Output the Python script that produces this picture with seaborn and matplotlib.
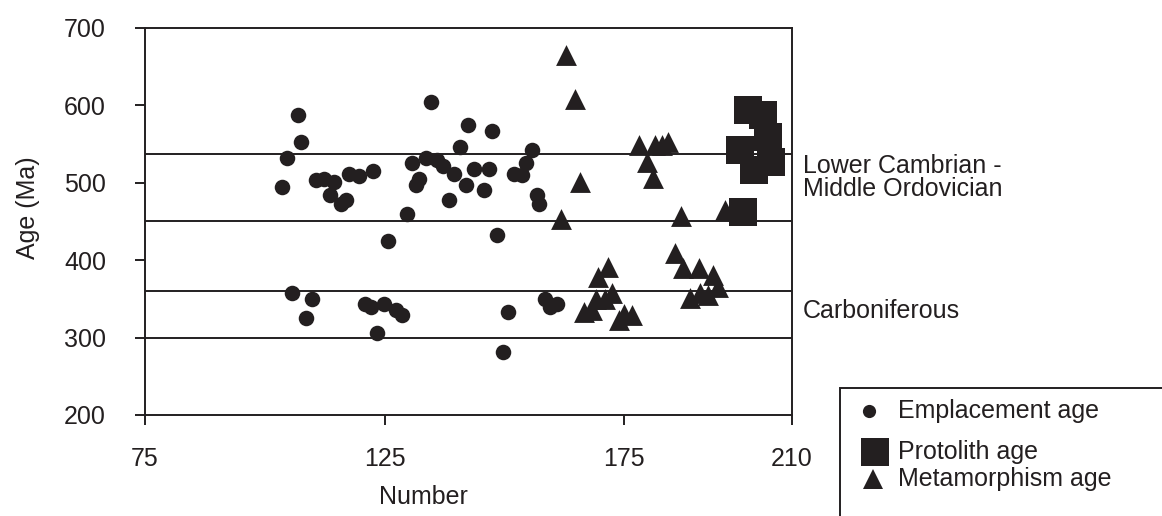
import numpy as np
import pandas as pd
import matplotlib
matplotlib.use("Agg")
import matplotlib.pyplot as plt
from matplotlib.lines import Line2D
from matplotlib.patches import Rectangle
import matplotlib.transforms as mtransforms
import seaborn as sns

# ---------------- data ----------------
emp_number = [103.6, 104.7, 106.9, 107.5, 105.7, 108.6, 109.8, 110.7, 112.4, 114.5,
              113.5, 115.9, 117.0, 117.6, 119.7, 122.5, 120.9, 122.2, 124.8, 127.4,
              128.7, 123.5, 125.8, 129.6, 130.7, 131.6, 132.2, 133.6, 134.6, 136.0,
              137.1, 139.5, 138.4, 140.7, 142.4, 141.9, 143.7, 145.7, 146.8, 147.5,
              148.5, 149.7, 150.7, 152.0, 153.7, 154.6, 155.7, 156.8, 157.3, 158.4,
              159.6, 161.0]
emp_age = [494.6, 532.0, 587.1, 552.6, 357.0, 325.5, 349.3, 504.1, 505.4, 501.0,
           483.9, 473.2, 477.4, 511.9, 508.4, 514.8, 343.2, 339.0, 342.8, 335.5,
           329.0, 305.4, 424.9, 460.3, 525.5, 496.8, 505.4, 532.0, 604.3, 529.0,
           521.3, 511.9, 477.4, 546.2, 574.2, 497.7, 518.3, 491.2, 518.3, 566.8,
           432.3, 280.9, 332.5, 511.9, 509.7, 525.5, 542.8, 483.9, 473.2, 349.7,
           339.7, 342.8]

pro_number = [200.9, 203.9, 204.9, 199.2, 205.6, 202.1, 199.8]
pro_age = [594.4, 587.1, 559.6, 542.3, 526.8, 516.1, 462.3]

met_number = [162.9, 164.7, 165.8, 161.7, 166.7, 168.3, 169.0, 169.5, 171.0, 171.7,
              172.4, 173.8, 174.9, 176.6, 178.0, 179.7, 180.9, 181.4, 182.8, 184.1,
              186.8, 185.5, 187.3, 190.5, 193.6, 194.6, 188.7, 190.8, 192.5, 196.0]
met_age = [664.5, 608.6, 501.0, 453.8, 333.3, 335.5, 349.3, 377.7, 349.3, 390.6,
           357.8, 322.6, 330.3, 329.0, 548.4, 526.8, 506.7, 548.4, 548.4, 552.6,
           457.2, 409.4, 389.3, 389.3, 380.6, 365.5, 350.6, 357.0, 354.8, 464.5]

boundary_ages = [537, 450, 360, 300]
period_labels = ["Lower Cambrian -\nMiddle Ordovician", "Carboniferous"]
period_label_ages = [507, 334]

x_ticks = [75, 125, 175, 210]
y_ticks = [200, 300, 400, 500, 600, 700]
legend_labels = ["Emplacement age", "Protolith age", "Metamorphism age"]

# ---------------- style ----------------
sns.set_style("ticks")
plt.rcParams["font.family"] = ["Liberation Sans", "DejaVu Sans"]
INK = "#231f20"
FS = 18

fig = plt.figure(figsize=(11.62, 5.16), dpi=100)
W, H = 1162, 516
L, R, T, B = 145, 792, 28, 415
ax = fig.add_axes([L / W, 1 - B / H, (R - L) / W, (B - T) / H])

emp = pd.DataFrame({"Number": emp_number, "Age": emp_age})
pro = pd.DataFrame({"Number": pro_number, "Age": pro_age})
met = pd.DataFrame({"Number": met_number, "Age": met_age})

for yv in boundary_ages:
    ax.axhline(yv, color=INK, lw=1.4, zorder=1)

sns.scatterplot(data=emp, x="Number", y="Age", marker="o", s=125, color=INK,
                linewidth=0, ax=ax, zorder=3, legend=False)
sns.scatterplot(data=pro, x="Number", y="Age", marker="s", s=420, color=INK,
                linewidth=0, ax=ax, zorder=3, legend=False)
sns.scatterplot(data=met, x="Number", y="Age", marker="^", s=225, color=INK,
                linewidth=0, ax=ax, zorder=3, legend=False)

ax.set_xlim(75, 210)
ax.set_ylim(200, 700)
ax.set_xticks(x_ticks)
ax.set_yticks(y_ticks)
ax.set_xticklabels([str(v) for v in x_ticks])
ax.set_yticklabels([str(v) for v in y_ticks])

for sp in ax.spines.values():
    sp.set_visible(True)
    sp.set_color(INK)
    sp.set_linewidth(1.4)

ax.tick_params(axis="both", direction="out", length=7, width=1.4, color=INK,
               labelsize=FS, labelcolor=INK)
ax.tick_params(axis="y", pad=21)
ax.tick_params(axis="x", pad=16)

ax.set_xlabel("Number", fontsize=FS, color=INK)
ax.set_ylabel("Age (Ma)", fontsize=FS, color=INK)
ax.xaxis.label.set_va("center")
ax.xaxis.set_label_coords((423 - L) / (R - L), (B - 497) / (B - T))
ax.yaxis.label.set_va("center")
ax.yaxis.set_label_coords((28 - L) / (R - L), (B - 208) / (B - T))

trans = mtransforms.blended_transform_factory(ax.transAxes, ax.transData)
tx = (803 - L) / (R - L)
for lab, yv in zip(period_labels, period_label_ages):
    ax.text(tx, yv, lab, transform=trans, ha="left", va="center", fontsize=FS,
            color=INK, linespacing=0.95, clip_on=False)

# ---------------- legend (manual, figure coords) ----------------
fig.add_artist(Rectangle((840 / W, 1 - 530 / H), 340 / W, (530 - 388) / H,
                         transform=fig.transFigure, fill=False, edgecolor=INK,
                         linewidth=1.4, clip_on=False))
leg_markers = ["o", "s", "^"]
leg_sizes = [9.5, 20.5, 15]
leg_mx = [869, 875, 873]
leg_y = [411, 452, 479]
for lab, mk, ms, mx, my in zip(legend_labels, leg_markers, leg_sizes, leg_mx, leg_y):
    fig.add_artist(Line2D([mx / W], [1 - my / H], marker=mk, markersize=ms,
                          color=INK, linestyle="none", markeredgewidth=0,
                          transform=fig.transFigure))
    fig.text(898 / W, 1 - my / H, lab, ha="left", va="center", fontsize=FS,
             color=INK)

fig.savefig("out.png", dpi=100)
